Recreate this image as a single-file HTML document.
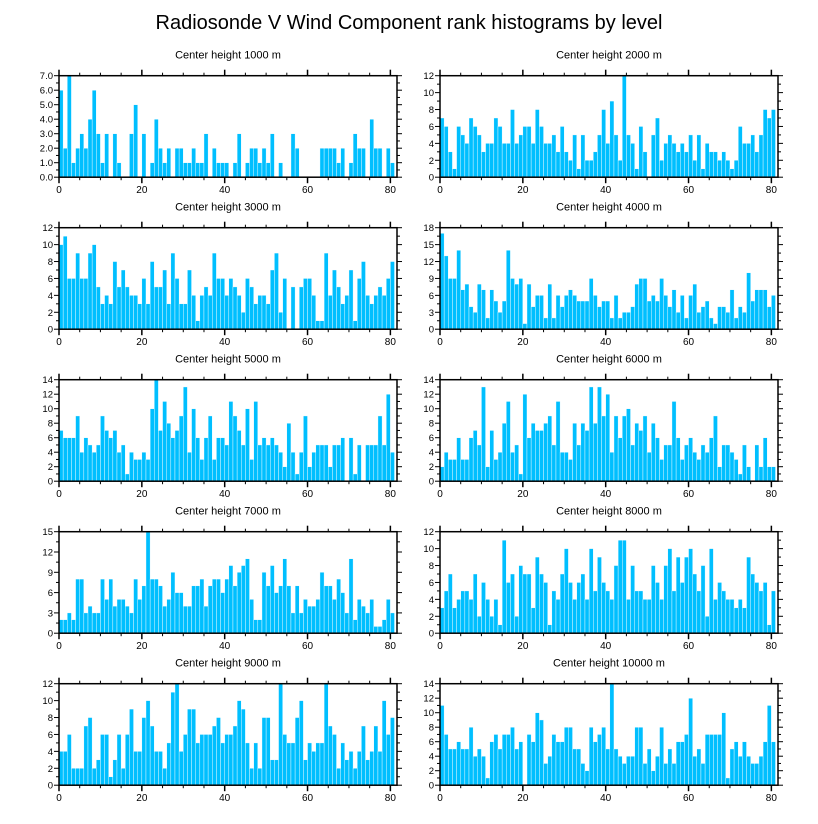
<!DOCTYPE html>
<html><head><meta charset="utf-8"><style>
body{margin:0;background:#fff;}
svg{display:block;font-family:"Liberation Sans",Arial,sans-serif;}
</style></head><body>
<svg id="chart" width="818" height="824" viewBox="0 0 818 824">
<text x="409" y="29" font-size="20" text-anchor="middle">Radiosonde V Wind Component rank histograms by level</text>
</svg>
<script>
const panelTitles = ["Center height 1000 m","Center height 2000 m","Center height 3000 m","Center height 4000 m","Center height 5000 m","Center height 6000 m","Center height 7000 m","Center height 8000 m","Center height 9000 m","Center height 10000 m"];
const xTicks = [0,20,40,60,80];
const yMax = [7,12,12,18,14,14,15,12,12,14];
const yStep = [1,2,2,3,2,2,3,2,2,2];
const yDecimals = [1,0,0,0,0,0,0,0,0,0];
const s1000 = [6,2,7,1,2,3,2,4,6,3,1,3,0,3,1,0,0,3,5,0,3,0,1,4,2,1,2,0,2,2,1,1,2,1,1,3,0,2,1,1,1,0,1,3,0,1,2,2,1,2,1,3,0,1,0,0,3,2,0,0,0,0,0,2,2,2,2,1,2,0,1,3,2,2,0,4,2,2,0,2,1];
const s2000 = [7,6,3,1,6,5,4,7,6,5,3,4,4,7,6,4,4,8,4,5,6,6,4,8,6,4,4,5,3,6,3,2,5,1,5,2,2,3,5,8,4,9,5,2,12,5,4,1,6,3,0,5,7,2,4,5,4,3,4,3,5,2,5,1,4,3,3,2,3,2,1,2,6,4,4,5,3,5,8,7,8];
const s3000 = [10,11,6,6,9,6,6,9,10,5,3,4,3,8,5,7,5,4,4,3,6,3,8,5,5,7,3,9,6,3,3,7,4,1,4,5,4,9,6,6,4,6,5,4,2,6,5,3,4,4,3,7,9,2,6,0,5,0,5,6,6,4,1,1,9,4,7,5,3,4,7,1,6,8,4,3,4,5,4,6,8];
const s4000 = [17,13,9,9,14,7,8,4,3,8,7,2,7,5,3,5,14,9,8,9,1,8,4,6,6,2,8,2,6,4,6,7,6,5,5,5,9,6,4,5,5,2,6,2,3,3,4,8,9,9,5,6,5,9,6,4,7,3,6,2,6,8,3,4,5,2,1,4,4,3,7,2,4,3,10,5,7,7,7,4,6];
const s5000 = [7,6,6,6,9,4,6,5,4,5,9,7,6,7,4,5,1,4,3,3,4,3,10,14,7,11,8,6,7,9,13,4,10,6,3,6,9,3,6,6,5,11,9,7,5,10,3,11,5,6,5,6,5,4,2,8,4,1,4,9,2,4,5,5,5,2,5,5,6,0,6,1,5,0,5,5,5,9,5,12,4];
const s6000 = [2,4,3,3,6,3,3,6,7,5,13,2,7,3,4,8,11,4,5,1,12,6,8,7,7,8,9,5,11,4,4,3,8,5,8,7,13,8,13,9,12,4,9,6,9,10,5,8,7,9,4,8,6,3,5,5,11,6,3,5,6,4,3,5,4,6,9,2,5,5,4,3,1,5,2,0,5,2,6,2,2];
const s7000 = [2,2,3,2,8,8,3,4,3,3,8,5,8,4,5,5,4,3,8,5,7,15,8,8,7,4,5,9,6,6,4,4,7,7,8,4,7,8,8,6,8,10,7,9,10,11,5,2,2,9,7,10,6,7,11,7,3,7,3,5,4,4,5,9,7,7,5,8,6,3,11,2,5,4,3,5,1,1,2,5,3];
const s8000 = [3,5,7,3,4,5,5,4,7,2,6,4,2,4,1,11,6,7,2,8,7,7,3,9,7,6,1,5,4,7,10,6,4,6,7,4,10,5,9,6,5,4,8,11,11,4,8,5,5,4,4,8,6,4,8,10,5,9,6,9,10,7,5,8,2,10,4,6,5,4,4,3,4,3,9,7,6,5,6,1,5];
const s9000 = [4,4,6,2,2,2,7,8,2,3,6,6,1,3,6,2,6,9,4,4,8,10,7,4,4,2,5,11,12,4,6,9,9,5,6,6,6,7,8,5,6,6,7,10,9,5,2,5,2,8,8,3,3,12,6,5,5,8,10,3,5,4,5,5,12,7,6,2,5,3,4,2,4,7,3,4,7,4,10,6,8];
const s10000 = [11,7,5,5,6,5,5,8,4,5,4,1,6,7,5,7,7,8,5,6,0,7,6,10,9,3,4,7,6,6,8,8,5,5,3,2,8,6,7,8,5,14,5,4,3,4,4,8,8,3,5,2,4,8,3,5,3,6,6,7,12,4,5,3,7,7,7,7,10,1,5,6,4,6,4,3,3,4,6,11,6];
const allSeries = [s1000,s2000,s3000,s4000,s5000,s6000,s7000,s8000,s9000,s10000];

const NS = "http://www.w3.org/2000/svg";
const svg = document.getElementById('chart');
function mk(tag, attrs, parent){const e=document.createElementNS(NS,tag);for(const k in attrs)e.setAttribute(k,attrs[k]);(parent||svg).appendChild(e);return e;}
const W = 338, H = 101.5, XMAX = 81.6;
const lefts = [59, 440];
const tops = [75.7, 227.7, 379.7, 531.7, 683.7];
allSeries.forEach((vals, p) => {
  const bx = lefts[p % 2], by = tops[Math.floor(p / 2)];
  const xs = v => bx + v / XMAX * W;
  const ys = v => by + H - v / yMax[p] * H;
  const g = mk('g', {});
  
  
  const t = mk('text', {x: bx + W / 2, y: by - 17, 'font-size': 11, 'text-anchor': 'middle'}, g);
  
  
  t.textContent = panelTitles[p];
  vals.forEach((v, i) => {
    if (v <= 0) return;
    const r = mk('rect', {x: xs(i), y: ys(v), width: xs(i + 1) - xs(i), height: ys(0) - ys(v), fill: '#00bfff', stroke: '#ffffff', 'stroke-width': 0.4}, g);
    
    
  });
  const box = mk('rect', {x: bx, y: by, width: W, height: H, fill: 'none', stroke: '#000', 'stroke-width': 1.5}, g);
  
  
  // x ticks
  for (let v = 0; v <= 80; v += 5) {
    const major = v % 20 === 0, L = major ? 6 : 3;
    mk('line', {x1: xs(v), x2: xs(v), y1: by, y2: by - L, stroke: '#000', 'stroke-width': major ? 1.5 : 1}, g);
    mk('line', {x1: xs(v), x2: xs(v), y1: by + H, y2: by + H + L, stroke: '#000', 'stroke-width': major ? 1.5 : 1}, g);
  }
  xTicks.forEach(v => {
    const tl = mk('text', {x: xs(v), y: by + H + 16, 'font-size': 10, 'text-anchor': 'middle'}, g);
    
    
    tl.textContent = v;
  });
  // y ticks
  const st = yStep[p];
  for (let k = 0; k * st / 2 <= yMax[p] + 1e-9; k++) {
    const v = k * st / 2, major = k % 2 === 0, L = major ? 5 : 3;
    mk('line', {x1: bx, x2: bx - L, y1: ys(v), y2: ys(v), stroke: '#000', 'stroke-width': 1}, g);
    mk('line', {x1: bx + W, x2: bx + W + L, y1: ys(v), y2: ys(v), stroke: '#000', 'stroke-width': 1}, g);
    if (major) {
      const yl = mk('text', {x: bx - 6, y: ys(v) + 3.5, 'font-size': 9.5, 'text-anchor': 'end'}, g);
      
      
      yl.textContent = v.toFixed(yDecimals[p]);
    }
  }
});
</script>
</body></html>
